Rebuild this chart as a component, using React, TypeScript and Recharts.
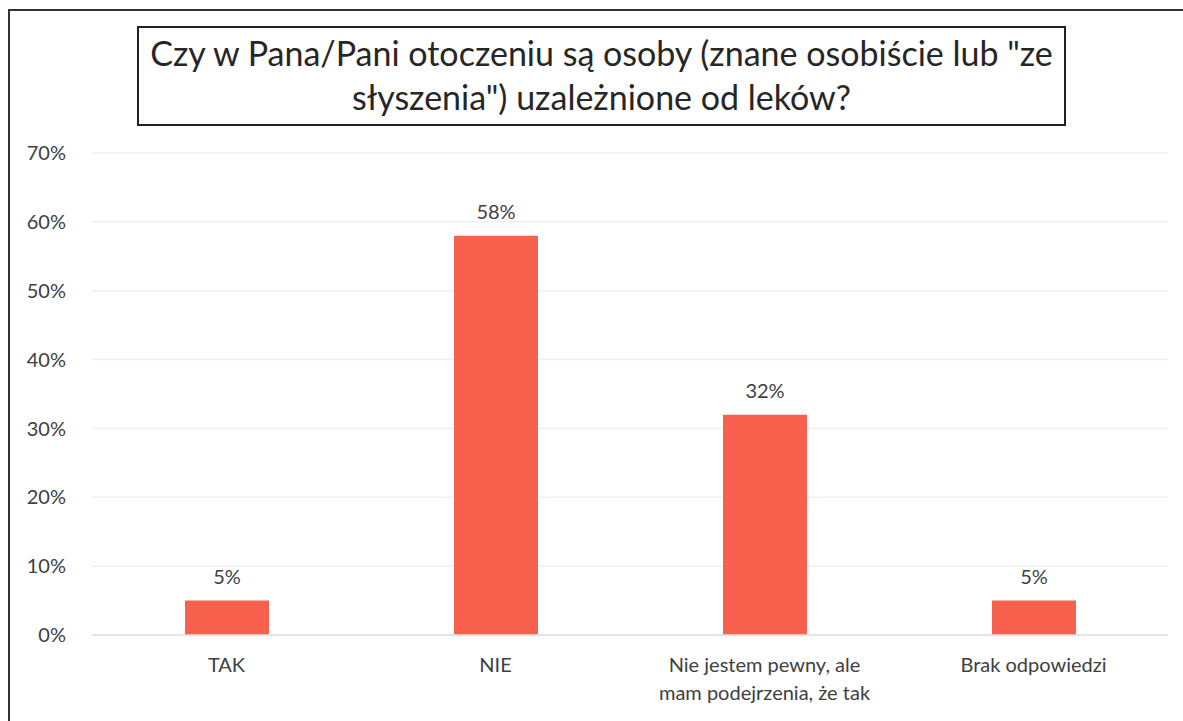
import { BarChart, Bar, XAxis, YAxis, CartesianGrid, LabelList } from "recharts";

const categories = ["TAK", "NIE", "Nie jestem pewny, ale mam podejrzenia, że tak", "Brak odpowiedzi"];
const shares = [5, 58, 32, 5];
const yTicks = [0, 10, 20, 30, 40, 50, 60, 70];

const data = categories.map((name, i) => ({ name, value: shares[i] }));

const FONT = "Lato, 'Open Sans', sans-serif";
const TEXT = "#404040";

function CategoryTick(props: any) {
  const { x, y, payload } = props;
  const label: string = payload.value;
  const lines = label.startsWith("Nie jestem") ? ["Nie jestem pewny, ale", "mam podejrzenia, że tak"] : [label];
  return (
    <text x={x} y={y} textAnchor="middle" fill={TEXT} fontSize={20} fontFamily={FONT}>
      {lines.map((l, i) => (
        <tspan key={i} x={x} dy={i === 0 ? "0.71em" : 28}>{l}</tspan>
      ))}
    </text>
  );
}

export default function App() {
  return (
    <div style={{ position: "absolute", left: 0, top: 0, width: 1183, height: 721, overflow: "hidden", background: "#fff" }}>
      <div style={{ position: "absolute", left: 8, top: 9, width: 1300, height: 800, border: "2px solid #333", boxSizing: "border-box" }} />
      <div
        style={{
          position: "absolute", left: 137, top: 26, width: 929, height: 100, boxSizing: "border-box",
          border: "2px solid #222", paddingTop: 3, textAlign: "center",
          fontFamily: FONT, fontSize: 34, lineHeight: "44px", color: "#262626"
        }}
      >
        Czy w Pana/Pani otoczeniu są osoby (znane osobiście lub "ze
        <br />
        słyszenia") uzależnione od leków?
      </div>
      <div style={{ position: "absolute", left: 0, top: 0 }}>
        <BarChart width={1183} height={721} data={data} margin={{ top: 153, right: 15, bottom: 26, left: 22 }}>
          <CartesianGrid vertical={false} stroke="#efefef" strokeWidth={1.5} />
          <XAxis
            dataKey="name"
            axisLine={{ stroke: "#e0e0e0", strokeWidth: 1.5 }}
            tickLine={false}
            tickSize={0}
            tickMargin={23}
            height={60}
            interval={0}
            tick={<CategoryTick />}
          />
          <YAxis
            width={70}
            domain={[0, 70]}
            ticks={yTicks}
            axisLine={false}
            tickLine={false}
            tickSize={0}
            tickMargin={26}
            tickFormatter={(v: number) => `${v}%`}
            tick={{ fill: TEXT, fontSize: 20, fontFamily: FONT }}
          />
          <Bar dataKey="value" fill="#F9614F" barSize={84} isAnimationActive={false}>
            <LabelList
              dataKey="value"
              position="top"
              offset={17}
              formatter={(v: any) => `${v}%`}
              style={{ fill: TEXT, fontSize: 20, fontFamily: FONT }}
            />
          </Bar>
        </BarChart>
      </div>
    </div>
  );
}
